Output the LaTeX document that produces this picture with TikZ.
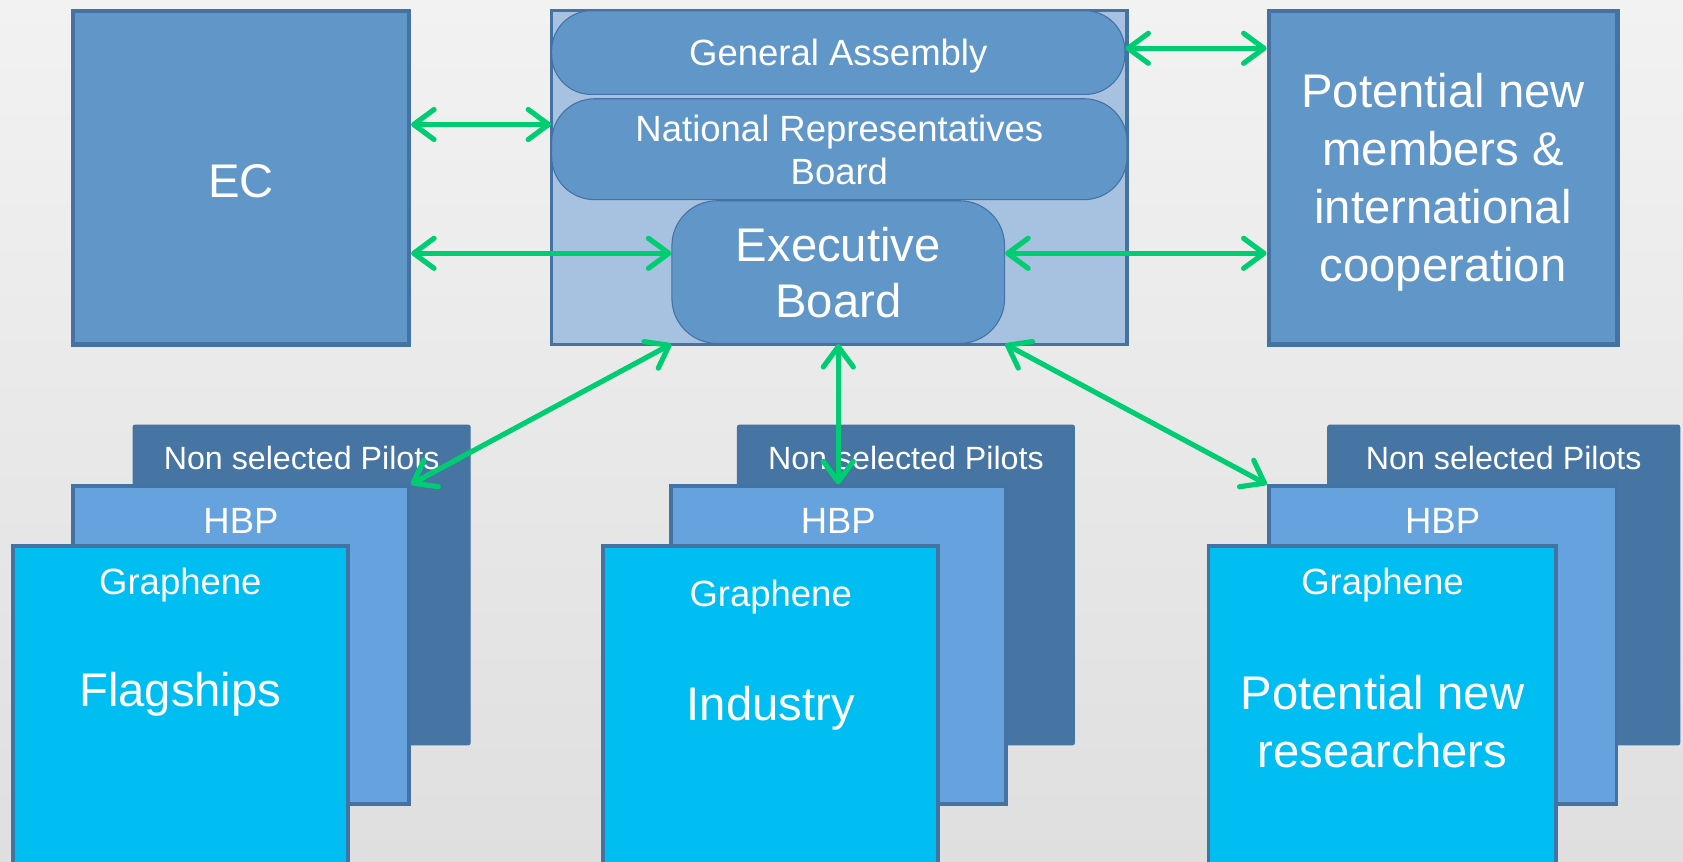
\documentclass[tikz,border=0pt]{standalone}
\usepackage{fontspec}
\setmainfont{Liberation Sans}
\usetikzlibrary{arrows.meta}
\definecolor{bgtop}{HTML}{F2F2F2}
\definecolor{bgbot}{HTML}{DFDFDF}
\definecolor{midblue}{RGB}{97,150,201}
\definecolor{bord}{RGB}{68,114,162}
\definecolor{lightblue}{RGB}{167,193,224}
\definecolor{darkblue}{RGB}{70,116,163}
\definecolor{hbpblue}{RGB}{102,162,221}
\definecolor{cyanblue}{RGB}{0,190,242}
\definecolor{arrgreen}{RGB}{0,204,113}
\begin{document}
\begin{tikzpicture}[x=1pt,y=-1pt,
  big/.style={font=\fontsize{44}{52}\selectfont},
  bigw/.style={font=\fontsize{44}{54}\selectfont},
  med/.style={font=\fontsize{34}{40}\selectfont},
  sml/.style={font=\fontsize{30}{36}\selectfont},
  lbl/.style={text=white, inner sep=0pt, align=center},
  bigbox/.style={rectangle, draw=bord, line width=4pt, fill=midblue, inner sep=0pt},
  pill/.style={rectangle, draw=bord, line width=1pt, fill=midblue, inner sep=0pt},
  backcard/.style={rectangle, draw=darkblue, fill=darkblue, line width=1pt, rounded corners=2pt, inner sep=0pt},
  midcard/.style={rectangle, draw=bord, fill=hbpblue, line width=3.5pt, inner sep=0pt},
  frontcard/.style={rectangle, draw=bord, fill=cyanblue, line width=3.5pt, inner sep=0pt},
  arr/.style={draw=arrgreen, line width=4.8pt,
    {Straight Barb[length=19pt,width=28pt,round]}-{Straight Barb[length=19pt,width=28pt,round]}}
]
\useasboundingbox (0,0) rectangle (1568,803);
\clip (0,0) rectangle (1568,803);
\shade[top color=bgtop, bottom color=bgbot] (0,0) rectangle (1568,803);

% top row
\node[bigbox, minimum width=313pt, minimum height=311pt] (ec) at (224.5,165.5) {};
\node[rectangle, draw=bord, line width=3pt, fill=lightblue, minimum width=536pt, minimum height=311pt, inner sep=0pt] (cont) at (782,165.5) {};
\node[pill, rounded corners=37pt, minimum width=534pt, minimum height=78pt] (ga) at (781,49) {};
\node[pill, rounded corners=40pt, minimum width=536pt, minimum height=94pt] (nrb) at (782,139) {};
\node[pill, rounded corners=42pt, minimum width=310pt, minimum height=133pt] (exec) at (781,253.5) {};
\node[bigbox, minimum width=325pt, minimum height=311pt] (pot) at (1344.5,165.5) {};

\node[lbl, big] (ect) at (224.5,168.5) {EC};
\node[lbl, med] (gat) at (781,52) {General Assembly};
\node[lbl, med] (nrbt) at (782,140) {National Representatives\\Board};
\node[lbl, big] (exect) at (781,254) {Executive\\Board};
\node[lbl, bigw] (pott) at (1344.5,170) {Potential new\\members \&\\international\\cooperation};

% group 1
\node[backcard, minimum width=314pt, minimum height=298pt] (ns1) at (281,545) {};
\node[midcard, minimum width=313pt, minimum height=296pt] (hbp1) at (224.5,601) {};
\node[frontcard, minimum width=312pt, minimum height=340pt] (gr1) at (168,679) {};
\node[lbl, sml] (ns1t) at (281,427) {Non selected Pilots};
\node[lbl, med] (hbp1t) at (224.5,485) {HBP};
\node[lbl, med] (gr1t) at (168,545) {Graphene};
\node[lbl, big] (fl) at (168,647) {Flagships};

% group 2
\node[backcard, minimum width=314pt, minimum height=298pt] (ns2) at (844,545) {};
\node[midcard, minimum width=312pt, minimum height=296pt] (hbp2) at (781,601) {};
\node[frontcard, minimum width=312pt, minimum height=340pt] (gr2) at (718,679) {};
\node[lbl, sml] (ns2t) at (844,427) {Non selected Pilots};
\node[lbl, med] (hbp2t) at (781,485) {HBP};
\node[lbl, med] (gr2t) at (718,556) {Graphene};
\node[lbl, big] (ind) at (718,660) {Industry};

% group 3
\node[backcard, minimum width=328pt, minimum height=298pt] (ns3) at (1401,545) {};
\node[midcard, minimum width=324pt, minimum height=296pt] (hbp3) at (1344,601) {};
\node[frontcard, minimum width=324pt, minimum height=340pt] (gr3) at (1288,679) {};
\node[lbl, sml] (ns3t) at (1401,427) {Non selected Pilots};
\node[lbl, med] (hbp3t) at (1344,485) {HBP};
\node[lbl, med] (gr3t) at (1288,545) {Graphene};
\node[lbl, bigw] (pnr) at (1288,672) {Potential new\\researchers};

% connectors
\coordinate (yGA) at (0,45);
\coordinate (yNR) at (0,116);
\coordinate (yEB) at (0,236);
\draw[arr] (ec.east |- yNR) -- (nrb.west |- yNR);
\draw[arr] (ec.east |- yEB) -- (exec.west |- yEB);
\draw[arr] (ga.east |- yGA) -- (pot.west |- yGA);
\draw[arr] (exec.east |- yEB) -- (pot.west |- yEB);
\draw[arr] (exec.south west) -- (hbp1.north east);
\draw[arr] (exec.south) -- (hbp2.north);
\draw[arr] (exec.south east) -- (hbp3.north west);
\end{tikzpicture}
\end{document}
